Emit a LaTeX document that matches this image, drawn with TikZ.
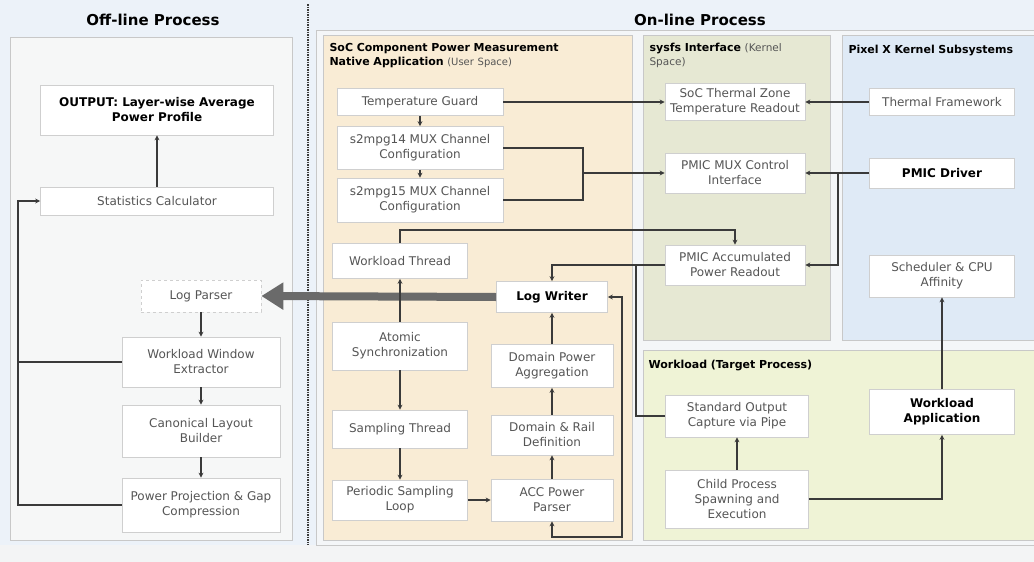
\documentclass[tikz,border=0pt]{standalone}
\usepackage{fontspec}
\setmainfont{DejaVu Sans}
\usetikzlibrary{arrows.meta}

\definecolor{bgblue}{HTML}{ECF2F9}
\definecolor{bggray}{HTML}{F3F4F5}
\definecolor{offfill}{HTML}{F6F7F7}
\definecolor{onfill}{HTML}{F4F6F8}
\definecolor{socfill}{HTML}{F9ECD5}
\definecolor{sysfill}{HTML}{E6E8D3}
\definecolor{kerfill}{HTML}{DFEAF6}
\definecolor{wlfill}{HTML}{EFF3D6}
\definecolor{panelline}{HTML}{C8C8C8}
\definecolor{boxline}{HTML}{CFCFCF}
\definecolor{boxtext}{HTML}{555555}
\definecolor{linec}{HTML}{3A3A3A}
\definecolor{bigc}{HTML}{6A6A6A}

\tikzset{
  panel/.style={draw=panelline, line width=0.8pt},
  box/.style={draw=boxline, fill=white, line width=0.7pt, align=center,
    text=boxtext, font=\fontsize{12}{15}\selectfont, inner sep=2pt},
  boxb/.style={box, text=black, font=\bfseries\fontsize{12}{15}\selectfont},
  ptitle/.style={font=\bfseries\fontsize{15}{18}\selectfont},
  stitle/.style={anchor=north west, align=left, text width=#1,
    font=\bfseries\fontsize{11}{14}\selectfont},
  link/.style={draw=linec, line width=1.5pt},
  flow/.style={link, -{Stealth[length=5pt,width=5pt]}},
  bigflow/.style={draw=bigc, line width=8pt, -{Triangle[length=22pt,width=26pt]}}
}

\begin{document}
\begin{tikzpicture}[x=1pt, y=-1pt]
  \useasboundingbox (0,0) rectangle (1034,562);
  % background
  \fill[bgblue] (0,0) rectangle (1034,545);
  \fill[bggray] (0,545) rectangle (1034,562);

  % panels
  \filldraw[panel, fill=offfill] (10,37) rectangle (292,540);
  \filldraw[panel, fill=onfill] (316,30) rectangle (1034,545);
  \filldraw[panel, fill=socfill] (323,35) rectangle (632,540);
  \filldraw[panel, fill=sysfill] (643,35) rectangle (830,340);
  \filldraw[panel, fill=kerfill] (842,35) rectangle (1040,340);
  \filldraw[panel, fill=wlfill] (643,350) rectangle (1040,540);
  \draw[linec, line width=1.5pt, densely dotted] (308,4) -- (308,545);

  % titles
  \node[ptitle] (offtitle) at (153,20) {Off-line Process};
  \node[ptitle] (ontitle) at (700,20) {On-line Process};
  \node[stitle=300pt] (soctitle) at (326,40) {SoC Component Power Measurement\\
    Native Application {\mdseries\fontsize{10}{14}\selectfont\color{boxtext}(User Space)}};
  \node[stitle=160pt] (systitle) at (646,40) {sysfs Interface {\mdseries\fontsize{10.5}{14}\selectfont\color{boxtext}(Kernel Space)}};
  \node[stitle=190pt] (kertitle) at (845,42) {Pixel X Kernel Subsystems};
  \node[stitle=250pt] (wltitle) at (645,357) {Workload (Target Process)};

  % off-line nodes
  \node[boxb, minimum width=233, minimum height=50] (out) at (157,110) {OUTPUT: Layer-wise Average\\Power Profile};
  \node[box, minimum width=233, minimum height=28] (stat) at (157,201) {Statistics Calculator};
  \node[box, dashed, minimum width=120, minimum height=32] (lparse) at (201,296) {Log Parser};
  \node[box, minimum width=158, minimum height=50] (wwe) at (201,362) {Workload Window\\Extractor};
  \node[box, minimum width=158, minimum height=52] (clb) at (201,431) {Canonical Layout\\Builder};
  \node[box, minimum width=158, minimum height=54] (ppg) at (201,505) {Power Projection \& Gap\\Compression};

  % native application nodes
  \node[box, minimum width=166, minimum height=27] (tguard) at (420,102) {Temperature Guard};
  \node[box, minimum width=166, minimum height=43] (mux14) at (420,148) {s2mpg14 MUX Channel\\Configuration};
  \node[box, minimum width=166, minimum height=44] (mux15) at (420,200) {s2mpg15 MUX Channel\\Configuration};
  \node[box, minimum width=135, minimum height=35] (wthread) at (400,261) {Workload Thread};
  \node[box, minimum width=135, minimum height=48] (atomic) at (400,346) {Atomic\\Synchronization};
  \node[box, minimum width=135, minimum height=38] (sthread) at (400,429) {Sampling Thread};
  \node[box, minimum width=135, minimum height=40] (ploop) at (400,500) {Periodic Sampling\\Loop};
  \node[boxb, minimum width=111, minimum height=31] (lwriter) at (552,297) {Log Writer};
  \node[box, minimum width=122, minimum height=43] (dpa) at (552,366) {Domain Power\\Aggregation};
  \node[box, minimum width=122, minimum height=40] (drd) at (552,435) {Domain \& Rail\\Definition};
  \node[box, minimum width=122, minimum height=42] (accp) at (552,500) {ACC Power\\Parser};

  % sysfs nodes
  \node[box, minimum width=140, minimum height=37] (tzone) at (735,102) {SoC Thermal Zone\\Temperature Readout};
  \node[box, minimum width=140, minimum height=40] (muxctl) at (735,173) {PMIC MUX Control\\Interface};
  \node[box, minimum width=140, minimum height=40] (pmicacc) at (735,265) {PMIC Accumulated\\Power Readout};

  % kernel nodes
  \node[box, minimum width=145, minimum height=27] (tframe) at (942,102) {Thermal Framework};
  \node[boxb, minimum width=145, minimum height=30] (pdriver) at (942,173) {PMIC Driver};
  \node[box, minimum width=145, minimum height=42] (sched) at (942,276) {Scheduler \& CPU\\Affinity};

  % workload nodes
  \node[box, minimum width=143, minimum height=42] (stdout) at (737,416) {Standard Output\\Capture via Pipe};
  \node[box, minimum width=143, minimum height=58] (child) at (737,499) {Child Process\\Spawning and\\Execution};
  \node[boxb, minimum width=145, minimum height=45] (wapp) at (942,412) {Workload\\Application};

  % junction points
  \coordinate (lrail) at (18,201);
  \coordinate (mjoin) at (583,173);
  \coordinate (wtop) at (735,230);
  \coordinate (sjoin) at (636,265);
  \coordinate (lloop) at (622,537);
  \coordinate (kjoin) at (838,173);

  % off-line flow
  \draw[flow] (stat) -- (out);
  \draw[flow] (lparse) -- (wwe);
  \draw[flow] (wwe) -- (clb);
  \draw[flow] (clb) -- (ppg);
  \draw[flow] (ppg.west) -| (lrail) -- (stat.west);
  \draw[link] (wwe.west) -- (wwe.west -| lrail);
  \draw[bigflow] (lwriter.west) -- (lparse.east);

  % native application flow
  \draw[flow] (tguard) -- (mux14);
  \draw[flow] (mux14) -- (mux15);
  \draw[flow] (tguard.east) -- (tzone.west);
  \draw[link] (mux14.east) -| (mjoin) |- (mux15.east);
  \draw[flow] (mjoin) -- (muxctl.west);
  \draw[flow] (wthread.north) |- (wtop) -- (pmicacc.north);
  \draw[flow] (pmicacc.west) -| (lwriter.north);
  \draw[link] (stdout.west) -| (sjoin);
  \draw[flow] (atomic) -- (wthread);
  \draw[flow] (atomic) -- (sthread);
  \draw[flow] (sthread) -- (ploop);
  \draw[flow] (ploop) -- (accp);
  \draw[flow] (accp) -- (drd);
  \draw[flow] (drd) -- (dpa);
  \draw[flow] (dpa) -- (lwriter);
  \draw[link, {Stealth[length=5pt,width=5pt]}-{Stealth[length=5pt,width=5pt]}] (accp.south) |- (lloop) |- (lwriter.east);

  % kernel flow
  \draw[flow] (tframe) -- (tzone);
  \draw[flow] (pdriver) -- (muxctl);
  \draw[flow] (kjoin) |- (pmicacc.east);

  % workload flow
  \draw[flow] (child) -- (stdout);
  \draw[flow] (child.east) -| (wapp.south);
  \draw[flow] (wapp) -- (sched);
\end{tikzpicture}
\end{document}
